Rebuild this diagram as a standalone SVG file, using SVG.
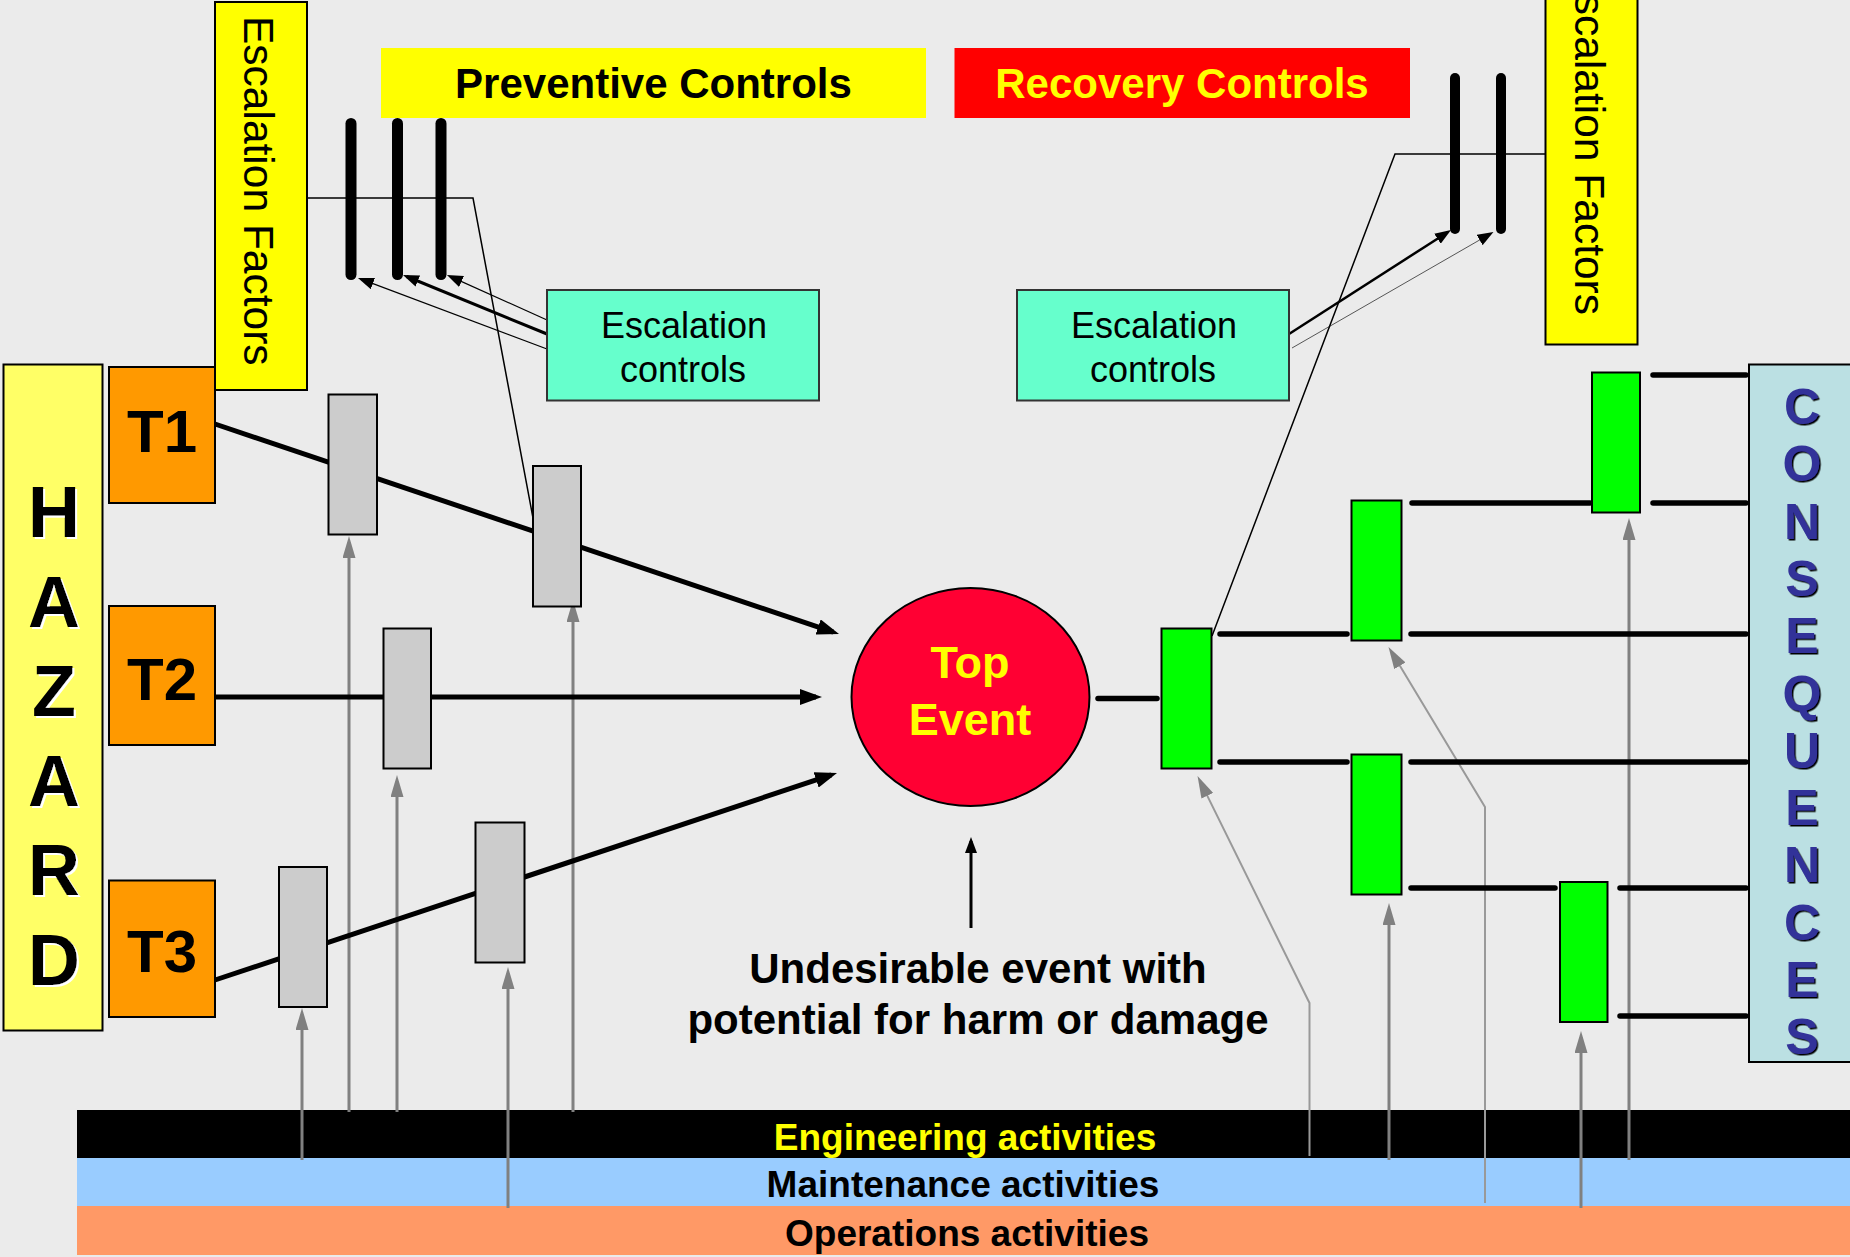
<svg xmlns="http://www.w3.org/2000/svg" width="1850" height="1257" viewBox="0 0 1850 1257">
  <defs>
    <style>
      .box { stroke: #000; stroke-width: 2; }
      .hazard { fill: #FFFF66; }
      .threat { fill: #FF9900; }
      .factor { fill: #FFFF00; }
      .esc { fill: #66FFCC; stroke: #333; stroke-width: 2; }
      .barrier { fill: #CCCCCC; stroke: #000; stroke-width: 2; }
      .recov { fill: #00FF00; stroke: #000; stroke-width: 2; }
      .conseq { fill: #BBE0E3; stroke: #000; stroke-width: 2; }
      .sans { font-family: "Liberation Sans", Arial, sans-serif; }
      .bold { font-family: "Liberation Sans", Arial, sans-serif; font-weight: bold; }
      .path { stroke: #000; stroke-width: 5; fill: none; }
      .rpath { stroke: #000; stroke-width: 5.5; fill: none; stroke-linecap: round; }
      .act { stroke: #808080; stroke-width: 3; fill: none; }
      .actthin { stroke: #999; stroke-width: 2; fill: none; }
      .ebar { stroke: #000; stroke-width: 11; stroke-linecap: round; fill: none; }
      .link { stroke: #000; stroke-width: 1.5; fill: none; }
    </style>
    <marker id="arrowBlack" markerUnits="userSpaceOnUse" markerWidth="22" markerHeight="16" refX="16" refY="8" orient="auto">
      <path d="M0,0 L22,8 L0,16 z" fill="#000"/>
    </marker>
    <marker id="arrowGray" markerUnits="userSpaceOnUse" markerWidth="22" markerHeight="13" refX="16" refY="6.5" orient="auto">
      <path d="M0,0 L22,6.5 L0,13 z" fill="#808080"/>
    </marker>
    <marker id="arrowSmall" markerUnits="userSpaceOnUse" markerWidth="16" markerHeight="12" refX="12" refY="6" orient="auto">
      <path d="M0,0 L16,6 L0,12 z" fill="#000"/>
    </marker>
    <filter id="whiteShadow" x="-20%" y="-20%" width="140%" height="140%">
      <feDropShadow dx="2" dy="2" stdDeviation="0" flood-color="#FFFFFF" flood-opacity="1"/>
    </filter>
    <filter id="darkShadow" x="-20%" y="-20%" width="140%" height="140%">
      <feDropShadow dx="1.5" dy="1.5" stdDeviation="0" flood-color="#000000" flood-opacity="1"/>
    </filter>
  </defs>

  <rect x="0" y="0" width="1850" height="1257" fill="#EBEBEB"/>

  <!-- activity bands -->
  <g id="bands">
    <rect x="77" y="1110" width="1773" height="48" fill="#000"/>
    <rect x="77" y="1158" width="1773" height="48" fill="#99CCFF"/>
    <rect x="77" y="1206" width="1773" height="49" fill="#FF9966"/>
    <text class="bold" x="965" y="1150" font-size="37" fill="#FFFF00" text-anchor="middle">Engineering activities</text>
    <text class="bold" x="963" y="1197" font-size="37" fill="#000" text-anchor="middle">Maintenance activities</text>
    <text class="bold" x="967" y="1246" font-size="37" fill="#000" text-anchor="middle">Operations activities</text>
  </g>

  <!-- connectors -->
  <g id="connectors">
    <!-- activity support arrows -->
    <line class="act" x1="302" y1="1160" x2="302" y2="1014" marker-end="url(#arrowGray)"/>
    <line class="act" x1="349" y1="1112" x2="349" y2="542" marker-end="url(#arrowGray)"/>
    <line class="act" x1="397" y1="1112" x2="397" y2="781" marker-end="url(#arrowGray)"/>
    <line class="act" x1="508" y1="1208" x2="508" y2="973" marker-end="url(#arrowGray)"/>
    <line class="act" x1="573" y1="1112" x2="573" y2="606" marker-end="url(#arrowGray)"/>
    <line class="act" x1="1389" y1="1160" x2="1389" y2="909" marker-end="url(#arrowGray)"/>
    <line class="act" x1="1581" y1="1208" x2="1581" y2="1037" marker-end="url(#arrowGray)"/>
    <line class="act" x1="1629" y1="1160" x2="1629" y2="524" marker-end="url(#arrowGray)"/>
    <polyline class="actthin" points="1309.5,1156 1309.5,1003 1200.2,781.4" marker-end="url(#arrowGray)"/>
    <polyline class="actthin" points="1485,1203 1485,807 1391.6,652.1" marker-end="url(#arrowGray)"/>

    <!-- threat paths to the top event -->
    <line class="path" x1="215" y1="424" x2="833.3" y2="632.1" marker-end="url(#arrowBlack)"/>
    <line class="path" x1="215" y1="697" x2="816" y2="697" marker-end="url(#arrowBlack)"/>
    <line class="path" x1="215" y1="980" x2="831.3" y2="774.9" marker-end="url(#arrowBlack)"/>

    <!-- consequence paths -->
    <line class="rpath" x1="1098" y1="698.5" x2="1157" y2="698.5"/>
    <line class="rpath" x1="1220" y1="634" x2="1347" y2="634"/>
    <line class="rpath" x1="1411" y1="634" x2="1746" y2="634"/>
    <line class="rpath" x1="1220" y1="762" x2="1347" y2="762"/>
    <line class="rpath" x1="1411" y1="762" x2="1746" y2="762"/>
    <line class="rpath" x1="1412" y1="503" x2="1590" y2="503"/>
    <line class="rpath" x1="1653" y1="503" x2="1746" y2="503"/>
    <line class="rpath" x1="1653" y1="375" x2="1746" y2="375"/>
    <line class="rpath" x1="1411" y1="888" x2="1555" y2="888"/>
    <line class="rpath" x1="1620" y1="888" x2="1746" y2="888"/>
    <line class="rpath" x1="1620" y1="1016" x2="1746" y2="1016"/>

    <!-- escalation factor bars -->
    <line class="ebar" x1="351" y1="123.5" x2="351" y2="274.5"/>
    <line class="ebar" x1="397.5" y1="123.5" x2="397.5" y2="274.5"/>
    <line class="ebar" x1="441" y1="123.5" x2="441" y2="274.5"/>
    <line class="ebar" x1="1455" y1="78" x2="1455" y2="229" style="stroke-width:10"/>
    <line class="ebar" x1="1501" y1="78" x2="1501" y2="229" style="stroke-width:10"/>

    <!-- escalation controls acting on the bars -->
    <line stroke="#000" stroke-width="1.2" x1="547" y1="320" x2="450.6" y2="276.6" marker-end="url(#arrowSmall)"/>
    <line stroke="#000" stroke-width="3" x1="547" y1="334" x2="406.7" y2="276.5" marker-end="url(#arrowSmall)"/>
    <line stroke="#000" stroke-width="1.2" x1="547" y1="349" x2="361.7" y2="279.4" marker-end="url(#arrowSmall)"/>
    <line stroke="#000" stroke-width="2.5" x1="1289" y1="334" x2="1447.6" y2="232.2" marker-end="url(#arrowSmall)"/>
    <line stroke="#555" stroke-width="1" x1="1292" y1="348" x2="1490" y2="234" marker-end="url(#arrowSmall)"/>

    <!-- escalation factors acting on barriers -->
    <polyline class="link" points="307,198 473,198 533,518"/>
    <polyline class="link" points="1545,154 1395,154 1212,636"/>

    <!-- pointer from description to the top event -->
    <line stroke="#000" stroke-width="3" x1="971" y1="928" x2="971" y2="841" marker-end="url(#arrowSmall)"/>
  </g>

  <!-- headings -->
  <g id="preventive-controls">
    <rect x="381" y="48" width="545" height="70" fill="#FFFF00"/>
    <text class="bold" x="653.5" y="98" font-size="42" fill="#000" text-anchor="middle">Preventive Controls</text>
  </g>
  <g id="recovery-controls">
    <rect x="954.5" y="48" width="455.5" height="70" fill="#FF0000"/>
    <text class="bold" x="1182" y="98" font-size="42" fill="#FFFF00" text-anchor="middle">Recovery Controls</text>
  </g>

  <!-- hazard -->
  <g id="hazard">
    <rect class="box hazard" x="3.5" y="364.5" width="99" height="666"/>
    <g class="bold" font-size="72" fill="#000" text-anchor="middle" filter="url(#whiteShadow)">
      <text x="54" y="537">H</text>
      <text x="54" y="626.5">A</text>
      <text x="54" y="716">Z</text>
      <text x="54" y="805.5">A</text>
      <text x="54" y="895">R</text>
      <text x="54" y="984.5">D</text>
    </g>
  </g>

  <!-- threats -->
  <g id="threat-t1">
    <rect class="box threat" x="109" y="367" width="106" height="136"/>
    <text class="bold" x="162" y="452" font-size="60" text-anchor="middle">T1</text>
  </g>
  <g id="threat-t2">
    <rect class="box threat" x="109" y="606" width="106" height="139"/>
    <text class="bold" x="162" y="700" font-size="60" text-anchor="middle">T2</text>
  </g>
  <g id="threat-t3">
    <rect class="box threat" x="109" y="880.5" width="106" height="136.5"/>
    <text class="bold" x="162" y="972" font-size="60" text-anchor="middle">T3</text>
  </g>

  <!-- escalation factors -->
  <g id="escalation-factors-left">
    <rect class="box factor" x="215" y="2" width="92" height="388"/>
    <text class="sans" font-size="42.5" transform="translate(244,16) rotate(90)">Escalation Factors</text>
  </g>
  <g id="escalation-factors-right">
    <rect class="box factor" x="1545.5" y="-4" width="92" height="348.5"/>
    <text class="sans" font-size="42.5" text-anchor="end" transform="translate(1575,315) rotate(90)">Escalation Factors</text>
  </g>

  <!-- escalation controls -->
  <g id="escalation-controls-left">
    <rect class="esc" x="547" y="290" width="272" height="110.5"/>
    <text class="sans" font-size="36" text-anchor="middle" x="684" y="338">Escalation</text>
    <text class="sans" font-size="36" text-anchor="middle" x="683" y="382">controls</text>
  </g>
  <g id="escalation-controls-right">
    <rect class="esc" x="1017" y="290" width="272" height="110.5"/>
    <text class="sans" font-size="36" text-anchor="middle" x="1154" y="338">Escalation</text>
    <text class="sans" font-size="36" text-anchor="middle" x="1153" y="382">controls</text>
  </g>

  <!-- preventive barriers -->
  <g id="barrier-t1-a"><rect class="barrier" x="328.5" y="394.5" width="48.5" height="140"/></g>
  <g id="barrier-t1-b"><rect class="barrier" x="533" y="466" width="48" height="140.5"/></g>
  <g id="barrier-t2-a"><rect class="barrier" x="383.5" y="628.5" width="47.5" height="140"/></g>
  <g id="barrier-t3-a"><rect class="barrier" x="279" y="867" width="48" height="140"/></g>
  <g id="barrier-t3-b"><rect class="barrier" x="475.5" y="822.5" width="49" height="140"/></g>

  <!-- top event -->
  <g id="top-event">
    <ellipse cx="970.5" cy="697" rx="119" ry="109" fill="#FF0033" stroke="#000" stroke-width="2"/>
    <text class="bold" x="970" y="678" font-size="45" fill="#FFFF00" text-anchor="middle">Top</text>
    <text class="bold" x="970" y="735" font-size="45" fill="#FFFF00" text-anchor="middle">Event</text>
  </g>

  <!-- recovery barriers -->
  <g id="recovery-1"><rect class="recov" x="1161.5" y="628.5" width="50" height="140"/></g>
  <g id="recovery-2"><rect class="recov" x="1351.5" y="500.5" width="50" height="140"/></g>
  <g id="recovery-3"><rect class="recov" x="1351.5" y="754.5" width="50" height="140"/></g>
  <g id="recovery-4"><rect class="recov" x="1592" y="372.5" width="48" height="140"/></g>
  <g id="recovery-5"><rect class="recov" x="1560" y="882" width="47.5" height="140"/></g>

  <!-- consequences -->
  <g id="consequences">
    <rect class="conseq" x="1749" y="364.5" width="105" height="697.5"/>
    <g class="bold" font-size="50" fill="#333399" text-anchor="middle" filter="url(#darkShadow)">
      <text x="1802" y="424">C</text>
      <text x="1802" y="481.3">O</text>
      <text x="1802" y="538.6">N</text>
      <text x="1802" y="595.9">S</text>
      <text x="1802" y="653.2">E</text>
      <text x="1802" y="710.5">Q</text>
      <text x="1802" y="767.8">U</text>
      <text x="1802" y="825.1">E</text>
      <text x="1802" y="882.4">N</text>
      <text x="1802" y="939.7">C</text>
      <text x="1802" y="997">E</text>
      <text x="1802" y="1054.3">S</text>
    </g>
  </g>

  <!-- description of the top event -->
  <g id="top-event-note">
    <text class="bold" x="978" y="983" font-size="42" text-anchor="middle">Undesirable event with</text>
    <text class="bold" x="978" y="1034" font-size="42" text-anchor="middle">potential for harm or damage</text>
  </g>
</svg>
